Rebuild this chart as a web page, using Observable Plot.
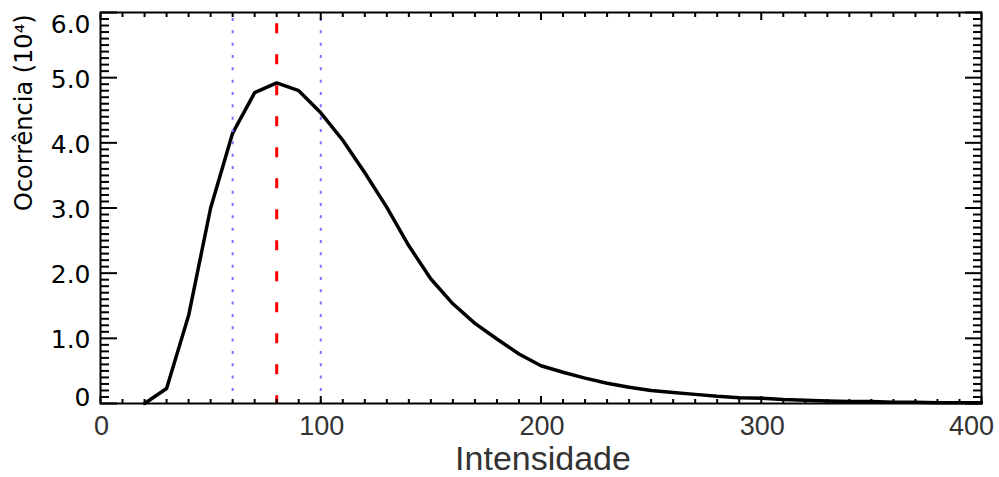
<!DOCTYPE html>
<html>
<head>
<meta charset="utf-8">
<script src="https://cdn.jsdelivr.net/npm/d3@7"></script>
<script src="https://cdn.jsdelivr.net/npm/@observablehq/plot@0.6"></script>
<style>
  html, body { margin: 0; padding: 0; background: #fff; }
  #chart { width: 999px; height: 477px; }
</style>
</head>
<body>
<div id="chart"></div>
<script>
// Intensity bins
const intensity = [20, 30, 40, 50, 60, 70, 80, 90, 100, 110, 120, 130, 140, 150, 160, 170, 180, 190, 200,
  210, 220, 230, 240, 250, 260, 270, 280, 290, 300, 310, 320, 330, 340, 350, 360, 370, 380, 390, 400];
// Occurrence (x 10^4)
const occurrence = [0.00, 0.23, 1.35, 3.00, 4.15, 4.77, 4.92, 4.80, 4.46, 4.04, 3.54, 3.01, 2.42, 1.91, 1.53, 1.23,
  0.99, 0.76, 0.58, 0.48, 0.39, 0.31, 0.25, 0.20, 0.17, 0.14, 0.11, 0.09, 0.08, 0.06, 0.05, 0.04, 0.03, 0.03,
  0.02, 0.02, 0.01, 0.01, 0.01];
const meanLine = [80];
const sigmaLines = [60, 100];
const xTickLabels = [0, 100, 200, 300];
const xLastLabel = [400];
const yTickLabels = [1, 2, 3, 4, 5];
const yTopLabel = [6];
const yBottomLabel = [0];
const xMajor = [0, 100, 200, 300, 400];
const yMajor = [0, 1, 2, 3, 4, 5, 6];

const data = intensity.map((x, i) => ({x, y: occurrence[i]}));
const xMinor = d3.range(0, 401, 10).filter(v => v % 100 !== 0);
const yMinor = d3.range(0, 61, 1).map(v => v / 10).filter((v, i) => i % 10 !== 0);

const yFmt = d => d === 0 ? "0" : d.toFixed(1);
const yLabStyle = {fontFamily: "DejaVu Sans", fontSize: 25, fill: "black", textAnchor: "end"};
const xLabStyle = {fontFamily: "Liberation Sans", fontSize: 27, fill: "#333"};

const chart = Plot.plot({
  width: 999,
  height: 477,
  marginLeft: 100,
  marginRight: 18,
  marginTop: 12,
  marginBottom: 74,
  x: {domain: [0, 400]},
  y: {domain: [0, 6]},
  style: {fontFamily: "DejaVu Sans", background: "white"},
  marks: [
    Plot.line(data, {x: "x", y: "y", stroke: "black", strokeWidth: 3.5}),
    Plot.ruleX(sigmaLines, {x: d => d, stroke: "#7373ff", strokeWidth: 2, strokeDasharray: "3,9.33", strokeDashoffset: 6.3}),
    Plot.ruleX(meanLine, {x: d => d, stroke: "#ff0000", strokeWidth: 3, strokeDasharray: "10,21", strokeDashoffset: 19.7}),
    // y ticks left (inward)
    Plot.axisY(yMinor, {anchor: "left", tickSize: 9, dx: 9, strokeWidth: 2, tickFormat: () => "", label: null}),
    Plot.axisY(yMajor, {anchor: "left", tickSize: 17, dx: 17, strokeWidth: 2, tickFormat: () => "", label: null}),
    // y ticks right (inward)
    Plot.axisY(yMinor, {anchor: "right", tickSize: 9, dx: -9, strokeWidth: 2, tickFormat: () => "", label: null}),
    Plot.axisY(yMajor, {anchor: "right", tickSize: 17, dx: -17, strokeWidth: 2, tickFormat: () => "", label: null}),
    // x ticks bottom (inward)
    Plot.axisX(xMinor, {anchor: "bottom", tickSize: 4, dy: -4, strokeWidth: 2, tickFormat: () => "", label: null}),
    Plot.axisX(xMajor, {anchor: "bottom", tickSize: 7, dy: -7, strokeWidth: 2, tickFormat: () => "", label: null}),
    // x ticks top (inward)
    Plot.axisX(xMinor, {anchor: "top", tickSize: 4, dy: 4, strokeWidth: 2, tickFormat: () => "", label: null}),
    Plot.axisX(xMajor, {anchor: "top", tickSize: 7, dy: 7, strokeWidth: 2, tickFormat: () => "", label: null}),
    Plot.frame({stroke: "black", strokeWidth: 2}),
    // y tick labels
    Plot.text(yTickLabels, {y: d => d, frameAnchor: "left", dx: -10, dy: 2, text: yFmt, ...yLabStyle}),
    Plot.text(yTopLabel, {y: d => d, frameAnchor: "left", dx: -10, dy: 12, text: yFmt, ...yLabStyle}),
    Plot.text(yBottomLabel, {y: d => d, frameAnchor: "left", dx: -10, dy: -6, text: yFmt, ...yLabStyle}),
    // x tick labels
    Plot.text(xTickLabels, {x: d => d, frameAnchor: "bottom", dy: 31, dx: 1, text: d => String(d), ...xLabStyle}),
    Plot.text(xLastLabel, {x: d => d, frameAnchor: "bottom", dy: 31, dx: -10, text: d => String(d), ...xLabStyle}),
    // axis titles
    Plot.text(["Intensidade"], {frameAnchor: "bottom", dy: 66, dx: 2, text: d => d,
      fontFamily: "Liberation Sans", fontSize: 34, fill: "#333", letterSpacing: 1}),
    Plot.text(["Ocorrência (10⁴)"], {frameAnchor: "left", dx: -76, dy: 3, rotate: -90, text: d => d,
      fontFamily: "DejaVu Sans", fontSize: 24, fill: "black"})
  ]
});
document.getElementById("chart").appendChild(chart);
</script>
</body>
</html>
